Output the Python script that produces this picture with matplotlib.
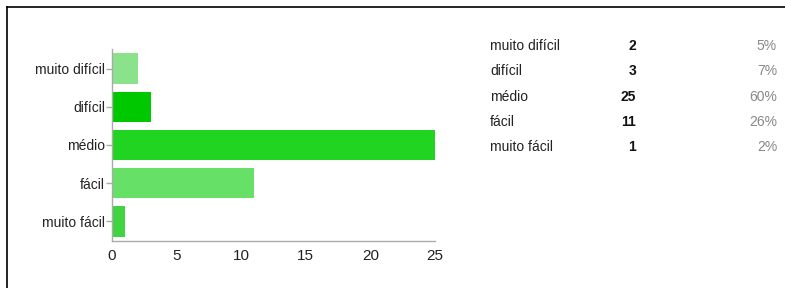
import matplotlib.pyplot as plt
from matplotlib.lines import Line2D

# dados da pesquisa
categorias = ['muito difícil', 'difícil', 'médio', 'fácil', 'muito fácil']
respostas = [2, 3, 25, 11, 1]
percentuais = ['5%', '7%', '60%', '26%', '2%']
cores = ['#8ae28a', '#00c800', '#22d422', '#66e066', '#40d440']
ticks_x = [0, 5, 10, 15, 20, 25]

W, H = 785, 288
fig = plt.figure(figsize=(W / 100, H / 100), dpi=100)
plt.rcParams['font.family'] = ['Liberation Sans', 'DejaVu Sans']

ax = fig.add_axes([112 / W, 47.5 / H, 323 / W, 191 / H])
pos = list(range(len(categorias)))
ax.barh(pos, respostas, height=0.8, color=cores, edgecolor='none')
ax.set_ylim(len(categorias) - 0.5, -0.5)
ax.set_xlim(0, 25)
ax.set_yticks(pos)
ax.set_yticklabels(categorias, fontsize=10, color='#222222')
ax.set_xticks(ticks_x)
ax.set_xticklabels([str(t) for t in ticks_x], fontsize=11, color='#222222')
for s in ['top', 'right']:
    ax.spines[s].set_visible(False)
for s in ['left', 'bottom']:
    ax.spines[s].set_color('#aaaaaa')
    ax.spines[s].set_linewidth(1)
ax.tick_params(axis='y', length=4, width=1, color='#aaaaaa', pad=1)
ax.tick_params(axis='x', length=0, pad=6)

# tabela ao lado
y0, dy = 46, 25.3
for i, (c, r, p) in enumerate(zip(categorias, respostas, percentuais)):
    y = 1 - (y0 + i * dy) / H
    fig.text(490 / W, y, c, fontsize=10, color='#222222', va='center', ha='left')
    fig.text(636 / W, y, str(r), fontsize=10, color='#111111', fontweight='bold',
             va='center', ha='right')
    fig.text(777 / W, y, p, fontsize=10, color='#888888', va='center', ha='right')

# moldura (só topo e esquerda)
fig.add_artist(Line2D([7 / W, 1], [1 - 7 / H, 1 - 7 / H], color='black', lw=1.2,
                      transform=fig.transFigure))
fig.add_artist(Line2D([7 / W, 7 / W], [0, 1 - 7 / H], color='black', lw=1.2,
                      transform=fig.transFigure))

fig.savefig('out.png', dpi=100)
